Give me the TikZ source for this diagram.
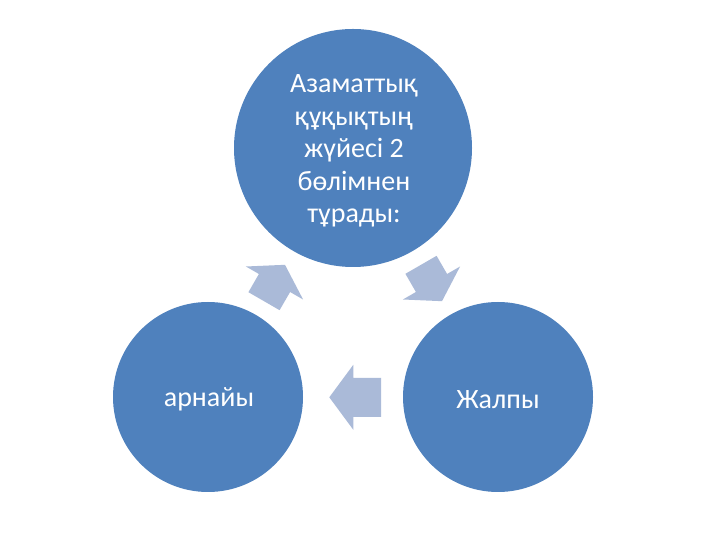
\documentclass[tikz,border=0pt]{standalone}
\usepackage{fontspec}
\setmainfont{Carlito}
\definecolor{circfill}{HTML}{4F81BD}
\definecolor{arrowfill}{RGB}{170,186,216}
\tikzset{
  cyclenode/.style={circle, fill=circfill, draw=none, inner sep=0pt},
  cycletext/.style={text=white, align=center, inner sep=0pt, font=\fontsize{28}{32.5}\selectfont},
  pics/blockarrow/.style n args={4}{code={
    \fill[arrowfill] (-#4,-#3) -- (0,-#3) -- (0,-#2) -- (#1,0) -- (0,#2) -- (0,#3) -- (-#4,#3) -- cycle;}}
}
\begin{document}
\begin{tikzpicture}[x=1pt,y=1pt]
\fill[white] (0,0) rectangle (720,540);
\useasboundingbox (0,0) rectangle (720,540);
% arrows
\pic (arrLT) [rotate=60] at (274.5,257) {blockarrow={21}{33}{18}{21}};
\pic (arrRT) [rotate=-60] at (431.5,257) {blockarrow={21}{33}{18}{21}};
\pic (arrB) [rotate=180] at (353.3,142.7) {blockarrow={24}{32.5}{19.5}{27.7}};
% circles
\node[cyclenode, minimum size=238pt] (top) at (353,392) {};
\node[cyclenode, minimum size=190pt] (left) at (208,143) {};
\node[cyclenode, minimum size=190pt] (right) at (498,143) {};
% texts
\node[cycletext] (topT) at ([xshift=1pt,yshift=-3pt]top.center) {Азаматтық\\құқықтың\\жүйесі 2\\бөлімнен\\тұрады:};
\node[cycletext] (leftT) at ([xshift=1pt,yshift=-2.5pt]left.center) {арнайы};
\node[cycletext] (rightT) at ([yshift=-2.5pt]right.center) {Жалпы};
\end{tikzpicture}
\end{document}
